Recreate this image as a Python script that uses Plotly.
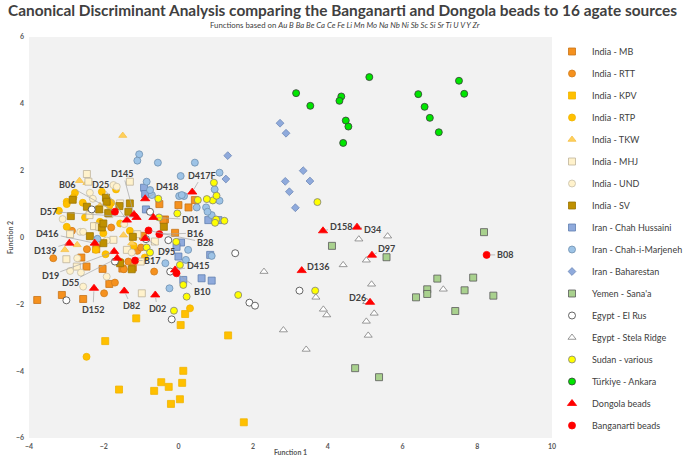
import plotly.graph_objects as go

# ---------------- data ----------------
mb_x = [-3.78, -3.12, -2.55, -2.46, -2.03, -1.85, -1.50, -1.22, -0.36, 0.27, 0.00, 0.44, -0.09, -0.51, -0.40, -2.60, -0.95, -2.20]
mb_y = [-1.87, -1.72, -1.84, -0.87, -0.94, -1.39, -0.93, -0.90, 0.54, 0.90, 0.97, 1.12, 0.14, 1.00, 0.52, -0.60, 0.05, -0.35]

rtt_x = [-3.35, -1.99, -1.70, -1.56, -1.34, -1.46, -0.65, -2.20, -1.10, -2.85, -1.80, -1.00, -2.45]
rtt_y = [-0.62, -1.67, -1.35, -0.72, -0.72, -0.95, -1.02, 0.35, -0.40, 0.20, 0.30, -0.30, -0.35]

kpv_x = [-1.13, 0.18, 0.06, 1.33, -1.96, 0.13, -0.46, 0.10, -0.26, -1.59, -0.65, 0.04, -0.20, 1.75]
kpv_y = [-2.42, -2.29, -2.62, -2.93, -3.10, -3.99, -4.33, -4.35, -4.47, -4.55, -4.59, -4.84, -4.98, -5.53]

rtp_x = [-2.99, -2.77, -2.81, -2.99, -2.56, -2.05, -1.80, -1.67, -1.56, -2.99, -2.10, -2.01, -2.21, 0.31, -2.46, -1.30, -1.95, -2.50, -1.20, -3.20, -1.85, -0.90]
rtp_y = [1.07, 1.34, 1.20, 1.00, 1.04, 1.37, 1.04, 1.44, 0.42, 0.32, 0.47, 0.13, -0.37, -2.12, -3.57, 0.20, -0.50, 0.60, -0.25, 0.80, 0.95, -0.60]

tkw_x = [-1.49, -2.65, -2.45, -2.71, -3.04, -1.47, -1.25, -2.10]
tkw_y = [3.05, 1.70, 1.64, -0.22, -0.37, 0.07, -0.17, 0.95]

mhj_x = [-2.45, -2.41, -1.30, -1.56, -2.26, -2.12, -2.38, -1.85, -1.74, -1.38, -0.63, -1.01, -2.72, -0.98, -2.90, -1.10, -3.00]
mhj_y = [1.90, 1.67, 1.67, 1.02, 0.34, 0.32, 0.67, 0.70, -0.07, -0.37, -0.12, -0.72, -0.87, -1.67, 0.10, 0.10, -0.65]

und_x = [-1.74, -2.37, -2.29, -1.65, -2.63, -1.92, -2.55, -2.71, -2.61, -1.92, -2.55, -1.45, -3.10, -2.90, -2.00, -1.25]
und_y = [1.57, 1.34, 1.16, 1.52, 0.17, -0.09, 0.17, -0.62, -1.05, -1.17, -1.47, 0.40, 0.55, -1.00, 0.85, -0.45]

sv_x = [-2.83, -2.88, -2.12, -1.94, -1.58, -1.34, -0.39, -2.05, -1.22, -2.45, -1.92, -1.30, -2.37, -2.01, -1.25, -1.56, -1.88, -2.01]
sv_y = [1.13, 0.64, 0.84, 1.19, 0.94, 0.77, 0.32, 0.30, 0.02, 0.92, 1.07, 1.02, 0.04, -0.17, -0.95, -0.77, 0.73, 0.42]

ch_x = [-0.92, -0.89, -0.87, 0.80, 1.07, 0.07, 0.85, 0.00, 0.13, 0.62, 0.89, -0.05]
ch_y = [1.49, 1.30, 0.84, 0.52, 0.52, -0.15, -0.52, -0.57, -1.27, -1.22, -1.29, -0.28]

cim_x = [-1.05, -1.10, -0.55, 0.44, 0.06, 1.10, -0.85, 0.02, 0.15, 0.49, 0.74, 0.89, 1.10, 0.26, -0.35, 0.20, -0.24, -2.17, 0.97, 0.78, 0.89, -0.71, 0.09, -0.76]
cim_y = [2.49, 2.30, 2.24, 2.24, 1.84, 1.94, 1.67, 1.24, 1.24, 0.90, 0.90, 0.67, 1.10, -0.37, -0.77, -0.67, -1.52, -0.04, 1.44, 0.77, -0.55, 1.27, 1.27, 1.42]

bah_x = [2.72, 2.88, 1.32, 1.27, 3.34, 2.86, 3.52, 2.97, 3.13]
bah_y = [3.42, 3.12, 2.45, 1.75, 2.00, 1.68, 1.69, 1.37, 0.89]

yem_x = [4.11, 5.57, 8.18, 6.93, 6.66, 6.66, 6.36, 7.89, 7.66, 8.43, 7.41, 4.73, 5.37]
yem_y = [-0.25, -0.59, 0.16, -1.23, -1.55, -1.69, -1.79, -1.20, -1.58, -1.74, -2.20, -3.91, -4.18]

elrus_x = [1.52, 3.24, 1.90, 2.05, -0.18, -3.00, -0.22, -1.70, -0.87, -0.27, -2.32, -0.76]
elrus_y = [-0.47, -1.59, -1.95, -2.04, -2.45, -1.88, -1.02, -0.72, -0.05, -0.08, 0.84, 0.77]

stela_x = [4.83, 5.60, 5.03, 4.41, 5.17, 3.68, 3.88, 3.97, 5.04, 5.24, 5.03, 5.08, 7.09, 3.42, 2.29, 2.81]
stela_y = [-0.05, 0.04, -0.68, -0.82, -1.40, -1.79, -2.15, -2.32, -1.92, -2.27, -2.51, -2.93, -1.55, -3.35, -1.02, -2.77]

sudan_x = [0.95, 0.52, 0.92, 0.76, 1.02, 1.01, 1.23, 0.98, -0.54, -0.52, -0.03, 3.72, 0.04, 0.13, 0.22, 1.60, 3.66, -0.12, -0.06, -0.85, -0.76]
sudan_y = [1.64, 1.12, 1.11, 1.15, 1.25, 0.54, 0.50, 0.44, 1.16, 0.60, 0.72, 1.06, -0.82, -1.42, -1.77, -1.72, -1.59, -2.19, -0.13, -0.30, -0.45]

turk_x = [3.15, 3.53, 5.11, 4.36, 4.31, 4.48, 4.55, 4.41, 6.42, 6.59, 6.73, 6.97, 7.51, 7.65]
turk_y = [4.32, 3.94, 4.80, 4.22, 4.09, 3.50, 3.32, 2.83, 4.29, 3.91, 3.58, 3.15, 4.69, 4.30]

dongola_id = ["D145", "D25", "D57", "D418", "D417F", "D01", "D416", "D139", "D19", "D55",
              "D152", "D82", "D02", "D95", "D415", "D158", "D34", "D97", "D136", "D26"]
dongola_x = [-1.19, -1.38, -1.12, -0.89, 0.37, -0.67, -2.24, -2.92, -1.72, -1.64,
             -2.26, -1.45, -0.62, -0.89, -0.09, 3.87, 4.78, 5.18, 3.30, 5.13]
dongola_y = [0.69, 0.52, 0.60, 1.16, 1.36, 0.60, -0.17, -0.17, -0.42, -0.62,
             -1.52, -1.60, -1.72, -0.03, -0.97, 0.20, 0.31, -0.53, -0.99, -1.94]

bang_id = ["B06", "B16", "B28", "B17", "B10", "B08"]
bang_x = [-1.70, -0.51, -0.80, -1.16, -0.05, 8.25]
bang_y = [0.77, 0.10, 0.21, -0.69, -1.07, -0.52]

x_ticks = [-4, -2, 0, 2, 4, 6, 8, 10]
y_ticks = [-6, -4, -2, 0, 2, 4, 6]

# ---------------- label offsets (pixels) ----------------
dongola_off = [(-11, -41), (-26, -36), (-88, -6), (22, -12), (10, -17), (37, 2), (-47, -10), (-24, 7),
               (-64, 24), (-47, 24), (-1, 21), (7, 15), (2, 14), (21, 13), (23, -4), (18, -4),
               (15, 2), (15, -7), (17, -4), (-13, -5)]
bang_off = [(-48, -27), (36, -1), (56, 12), (17, 0), (25, 18), (18, 0)]

# ---------------- styles ----------------
series = [
    ("India - MB", mb_x, mb_y, "square", 7, "#F5911E", "#C87418"),
    ("India - RTT", rtt_x, rtt_y, "circle", 7, "#F5911E", "#D07C1A"),
    ("India - KPV", kpv_x, kpv_y, "square", 7, "#FFC000", "#F0B400"),
    ("India - RTP", rtp_x, rtp_y, "circle", 7, "#FFC000", "#F0B400"),
    ("India - TKW", tkw_x, tkw_y, "triangle-up", 7, "#FFD05A", "#F5C04A"),
    ("India - MHJ", mhj_x, mhj_y, "square", 7, "#FFF2CC", "#BFB49A"),
    ("India - UND", und_x, und_y, "circle", 7, "#FFF2CC", "#C8BFA8"),
    ("India - SV", sv_x, sv_y, "square", 7, "#BF9000", "#9A7400"),
    ("Iran - Chah Hussaini", ch_x, ch_y, "square", 7, "#8FAADC", "#5F7FB0"),
    ("Iran - Chah-i-Marjeneh", cim_x, cim_y, "circle", 7, "#9DC3E6", "#6F8FAF"),
    ("Iran - Baharestan", bah_x, bah_y, "diamond", 6, "#8FAADC", "#6F89B8"),
    ("Yemen - Sana'a", yem_x, yem_y, "square", 7, "#A9D18E", "#595959"),
    ("Egypt - El Rus", elrus_x, elrus_y, "circle", 7, "#FFFFFF", "#404040"),
    ("Egypt - Stela Ridge", stela_x, stela_y, "triangle-up", 7, "#FFFFFF", "#7F7F7F"),
    ("Sudan - various", sudan_x, sudan_y, "circle", 7, "#FFFF00", "#7F7F7F"),
    ("Türkiye - Ankara", turk_x, turk_y, "circle", 7, "#00E600", "#3A3A3A"),
    ("Dongola beads", dongola_x, dongola_y, "triangle-up", 8, "#FF0000", "#FF0000"),
    ("Banganarti beads", bang_x, bang_y, "circle", 7, "#FF0000", "#FF0000"),
]

FONT = "Lato"
TXT = "#404040"

fig = go.Figure()
for i, (name, xs, ys, sym, sz, fill, line) in enumerate(series):
    fig.add_trace(go.Scatter(
        x=xs, y=ys, mode="markers", name=name, legendgroup=f"g{i}",
        marker=dict(symbol=sym, size=sz, color=fill, line=dict(color=line, width=0.8)),
    ))

def add_labels(ids, xs, ys, offs):
    for lab, x, y, (ax, ay) in zip(ids, xs, ys, offs):
        fig.add_annotation(
            x=x, y=y, xref="x", yref="y", text=f"<b>{lab}</b>",
            showarrow=True, arrowhead=0, arrowwidth=0.7, arrowcolor="#A6A6A6",
            ax=ax, ay=ay, standoff=3,
            font=dict(family=FONT, size=9, color=TXT),
        )

add_labels(dongola_id, dongola_x, dongola_y, dongola_off)
add_labels(bang_id, bang_x, bang_y, bang_off)

elements = "Au B Ba Be Ca Ce Fe Li Mn Mo Na Nb Ni Sb Sc Si Sr Ti U V Y Zr"
fig.add_annotation(
    xref="paper", yref="paper", x=0.605, y=1.030, xanchor="center", yanchor="middle",
    text=f"Functions based on <i>{elements}</i>", showarrow=False,
    font=dict(family=FONT, size=7.8, color=TXT),
)

fig.update_layout(
    width=685, height=459,
    margin=dict(l=29, r=133, t=37, b=21, autoexpand=False),
    paper_bgcolor="white", plot_bgcolor="#F2F2F2",
    font=dict(family=FONT, color=TXT),
    title=dict(
        text="<b>Canonical Discriminant Analysis comparing the Banganarti and Dongola beads to 16 agate sources</b>",
        x=0.5, xref="container", xanchor="center",
        y=1 - 11 / 459, yref="container", yanchor="middle",
        font=dict(family=FONT, size=15.4, color=TXT),
    ),
    legend=dict(
        x=1.0, xanchor="left", y=1.0, yanchor="top",
        font=dict(family=FONT, size=9, color=TXT),
        tracegroupgap=3.0, bgcolor="rgba(0,0,0,0)",
    ),
    showlegend=True,
)
fig.update_xaxes(
    range=[-4, 10], tickvals=x_ticks, showgrid=False, zeroline=False, showline=False,
    ticks="", automargin=False, ticklabelstandoff=3,
    tickfont=dict(family=FONT, size=7, color="#595959", weight="bold"),
    title=dict(text="<b>Function 1</b>", font=dict(family=FONT, size=7, color="#595959"), standoff=1),
)
fig.update_yaxes(
    range=[-6, 6], tickvals=y_ticks, showgrid=False, zeroline=False, showline=False,
    ticks="", automargin=False, ticklabelstandoff=4,
    tickfont=dict(family=FONT, size=7, color="#595959", weight="bold"),
    title=dict(text="<b>Function 2</b>", font=dict(family=FONT, size=7, color="#595959"), standoff=1),
)

fig.write_html("out.html")
